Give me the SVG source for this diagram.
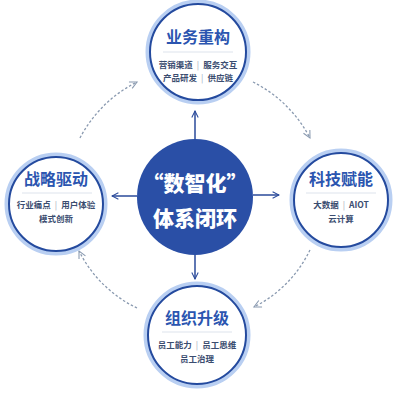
<svg xmlns="http://www.w3.org/2000/svg" width="400" height="400" viewBox="0 0 400 400">
<defs>
<marker id="open" viewBox="0 0 10 10" refX="9" refY="5" markerWidth="8" markerHeight="8" markerUnits="userSpaceOnUse" orient="auto">
<path d="M1,1 L9,5 L1,9" fill="none" stroke="#2a4a9a" stroke-width="1.3"/>
</marker>
<marker id="dopen" viewBox="0 0 10 10" refX="9" refY="5" markerWidth="9" markerHeight="9" markerUnits="userSpaceOnUse" orient="auto">
<path d="M1,1 L9,5 L1,9" fill="none" stroke="#8a9ab0" stroke-width="1.2"/>
</marker>
</defs>
<style>
.glow{fill:#ffffff;stroke:#b9cff2;stroke-width:5}
.ring{fill:none;stroke:#244a9e;stroke-width:2}
.title{font-family:"Noto Sans CJK SC",sans-serif;font-weight:700;font-size:16px;fill:#2b55b0;text-anchor:middle}
.sub{font-family:"Noto Sans CJK SC",sans-serif;font-weight:700;font-size:8.5px;fill:#3b4d70;text-anchor:middle}
.sep{font-weight:400;fill:#9aa6b8}
.div{stroke:#dde3ec;stroke-width:1}
.ctext{font-family:"Noto Sans CJK SC",sans-serif;font-weight:900;font-size:21px;fill:#ffffff;text-anchor:middle}
.solid{fill:none;stroke:#2a4a9a;stroke-width:1.5}
.dash{fill:none;stroke:#8a9ab0;stroke-width:1.3;stroke-dasharray:2.5 2}
</style>
<rect width="400" height="400" fill="#ffffff"/>
<g id="connectors">
<path class="solid" d="M195,139 L195,111" marker-end="url(#open)"/>
<path class="solid" d="M253,195 L279,195" marker-end="url(#open)"/>
<path class="solid" d="M137,196 L112,196" marker-end="url(#open)"/>
<path class="solid" d="M195,255 L195,279" marker-end="url(#open)"/>
<path class="dash" d="M80,138 A130,130 0 0 1 137,82" marker-end="url(#dopen)"/>
<path class="dash" d="M253,82 A130,130 0 0 1 310,138" marker-end="url(#dopen)"/>
<path class="dash" d="M310,250 A125,125 0 0 1 254,307" marker-end="url(#dopen)"/>
<path class="dash" d="M137,308 A126,126 0 0 1 79,251" marker-end="url(#dopen)"/>
</g>
<g id="center">
<circle cx="195" cy="197" r="58" fill="#2a4fa6"/>
<text class="ctext" x="195" y="191">“数智化”</text>
<text class="ctext" x="195" y="226">体系闭环</text>
</g>
<g id="top">
<circle class="glow" cx="198" cy="52" r="50"/>
<circle class="ring" cx="198" cy="52" r="48"/>
<text class="title" x="198" y="43">业务重构</text>
<line class="div" x1="163" y1="52" x2="233" y2="52"/>
<text class="sub" x="198" y="68">营销渠道<tspan class="sep" dx="4">|</tspan><tspan dx="4">服务交互</tspan></text>
<text class="sub" x="198" y="81">产品研发<tspan class="sep" dx="4">|</tspan><tspan dx="4">供应链</tspan></text>
</g>
<g id="left">
<circle class="glow" cx="56" cy="204" r="49"/>
<circle class="ring" cx="56" cy="204" r="47"/>
<text class="title" x="56" y="185">战略驱动</text>
<line class="div" x1="22" y1="193" x2="92" y2="193"/>
<text class="sub" x="56" y="208">行业痛点<tspan class="sep" dx="4">|</tspan><tspan dx="4">用户体验</tspan></text>
<text class="sub" x="56" y="222">模式创新</text>
</g>
<g id="right">
<circle class="glow" cx="341" cy="200" r="49"/>
<circle class="ring" cx="341" cy="200" r="47"/>
<text class="title" x="341" y="185">科技赋能</text>
<line class="div" x1="306" y1="193" x2="376" y2="193"/>
<text class="sub" x="341" y="208">大数据<tspan class="sep" dx="4">|</tspan><tspan dx="4">AIOT</tspan></text>
<text class="sub" x="341" y="222">云计算</text>
</g>
<g id="bottom">
<circle class="glow" cx="197" cy="335" r="51"/>
<circle class="ring" cx="197" cy="335" r="49"/>
<text class="title" x="197" y="324">组织升级</text>
<line class="div" x1="162" y1="332" x2="232" y2="332"/>
<text class="sub" x="197" y="348">员工能力<tspan class="sep" dx="4">|</tspan><tspan dx="4">员工思维</tspan></text>
<text class="sub" x="197" y="362">员工治理</text>
</g>
</svg>
